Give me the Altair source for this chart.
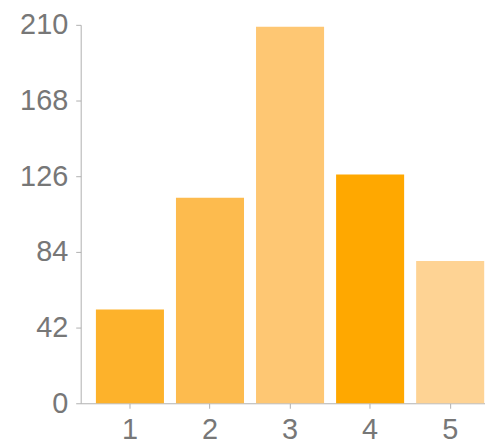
import altair as alt
import pandas as pd

categories = ["1", "2", "3", "4", "5"]
values = [52, 114, 209, 127, 79]
colors = ["#fdb22b", "#fdbb4e", "#fec773", "#ffa800", "#fed394"]
y_ticks = [0, 42, 84, 126, 168, 210]

df = pd.DataFrame({"cat": categories, "val": values, "color": colors})

chart = alt.Chart(df).mark_bar().encode(
    x=alt.X("cat:N", sort=categories,
            scale=alt.Scale(paddingInner=0.15, paddingOuter=0.1, align=0.95),
            axis=alt.Axis(title=None, labelAngle=0, labelFontSize=29, labelColor="#777777",
                          labelFont="Liberation Sans", domainColor="#b0b0b0", tickColor="#b0b0b0",
                          tickSize=5, labelPadding=7, grid=False)),
    y=alt.Y("val:Q", scale=alt.Scale(domain=[0, 210], nice=False),
            axis=alt.Axis(title=None, values=y_ticks, labelFontSize=29, labelColor="#777777",
                          labelFont="Liberation Sans", domainColor="#b0b0b0", tickColor="#b0b0b0",
                          tickSize=5, labelPadding=8, grid=False)),
    color=alt.Color("color:N", scale=None),
).properties(
    width=479, height=437,
    autosize=alt.AutoSizeParams(type="fit", contains="padding"),
    padding={"left": 11, "top": 2, "right": 0, "bottom": 0},
).configure_view(stroke=None)

chart.save("out.html", embed_options={"renderer": "svg", "actions": False})
